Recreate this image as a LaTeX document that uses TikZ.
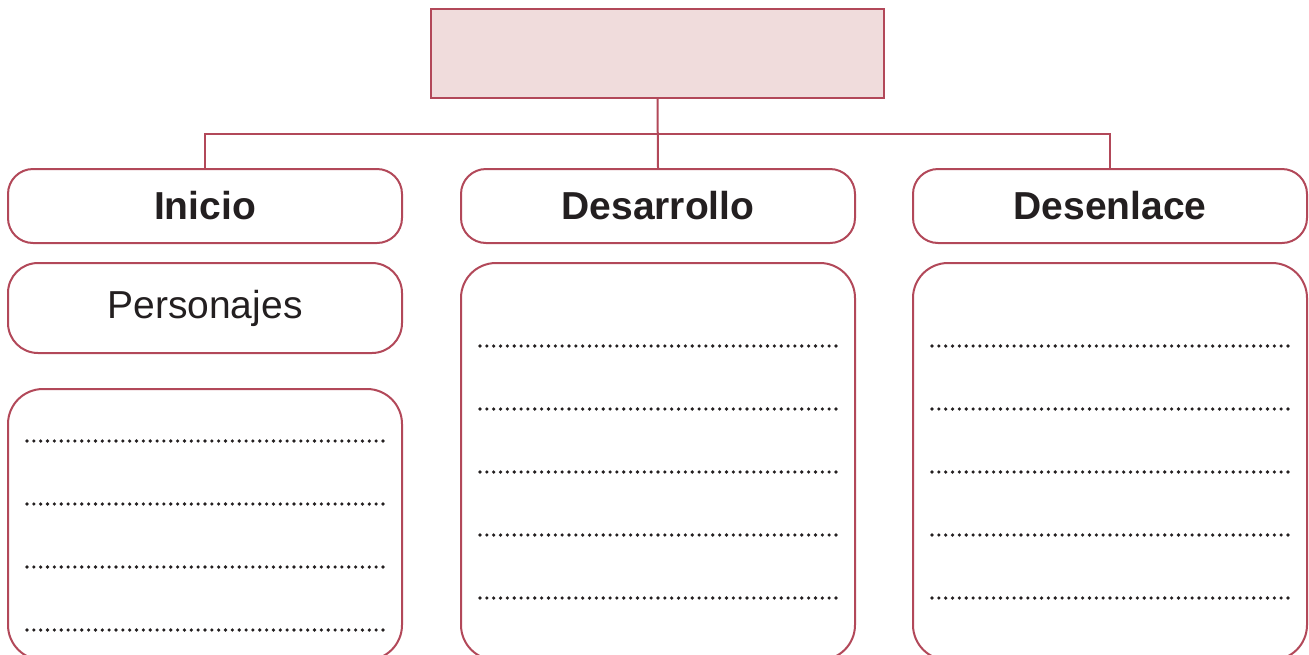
\documentclass[tikz,border=0pt]{standalone}
\usepackage{fontspec}
\setmainfont{Liberation Sans}
\definecolor{frame}{HTML}{B24859}
\definecolor{pinkfill}{HTML}{F0DCDC}
\definecolor{ink}{HTML}{231F20}
\tikzset{
  box/.style={draw=frame, line width=2pt, fill=white, minimum width=394pt, inner sep=0pt},
  header/.style={box, minimum height=74pt, rounded corners=25pt, font=\fontsize{39}{44}\selectfont\bfseries, text=ink},
  sub/.style={box, minimum height=90pt, rounded corners=30pt, font=\fontsize{39}{44}\selectfont, text=ink},
  panel/.style={box, rounded corners=35pt},
  link/.style={draw=frame, line width=2pt},
  dotline/.style={draw=ink, line width=3.6pt, line cap=round, dash pattern=on 0pt off 6.846pt},
}
\begin{document}
\begin{tikzpicture}[x=1pt,y=-1pt]
\useasboundingbox (0,0) rectangle (1309,654);
\clip (0,0) rectangle (1309,654);
% title box
\node[draw=frame, line width=2pt, fill=pinkfill, minimum width=453pt, minimum height=89pt, inner sep=0pt] (top) at (657.5,53.5) {};
% headers
\node[header] (ini) at (205,206) {Inicio};
\node[header] (des) at (658,206) {Desarrollo};
\node[header] (desl) at (1110,206) {Desenlace};
% connectors
\coordinate (bar) at (657.5,134);
\draw[link] (top.south) -- (des.north);
\draw[link] (ini.north) |- (bar) -| (desl.north);
% sub box
\node[sub] (pers) at (205,308) {Personajes};
% panels
\node[panel, minimum height=271pt] (p1) at (205,524.5) {};
\node[panel, minimum height=397pt] (p2) at (658,461.5) {};
\node[panel, minimum height=397pt] (p3) at (1110,461.5) {};
% dotted lines
\foreach \y in {441,504,567,630} {
  \draw[dotline] (27,\y) -- (383,\y);
}
\foreach \y in {346,409,472,535,598} {
  \draw[dotline] (480,\y) -- (836,\y);
  \draw[dotline] (932,\y) -- (1288,\y);
}
\end{tikzpicture}
\end{document}
